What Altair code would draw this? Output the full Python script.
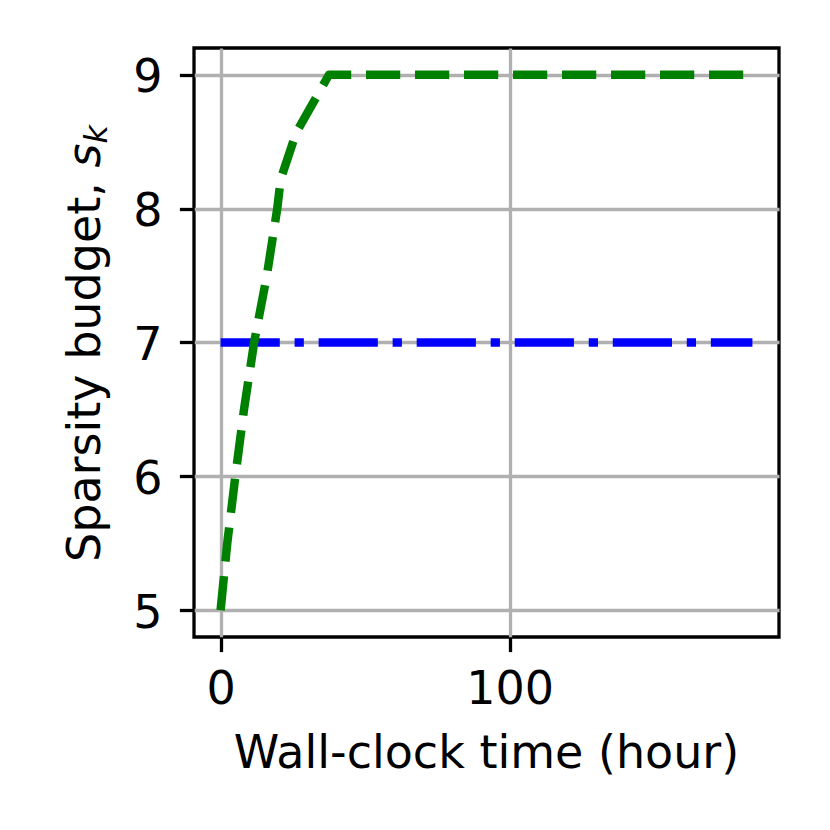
import altair as alt
import pandas as pd

# Data
green_hours = [0, 2.3, 5.1, 8.1, 11.6, 16.0, 19.6, 20.8, 26.2, 37.5, 184]
green_budget = [5, 5.5, 6, 6.5, 7, 7.5, 8, 8.22, 8.57, 9, 9]
blue_hours = [0, 184]
blue_budget = [7, 7]

x_ticks = [0, 100]
y_ticks = [5, 6, 7, 8, 9]

FONT = "DejaVu Sans"
FS = 46

green_df = pd.DataFrame({"t": green_hours, "s": green_budget})
blue_df = pd.DataFrame({"t": blue_hours, "s": blue_budget})

xscale = alt.Scale(domain=[-9.2, 193.2], nice=False, zero=False)
yscale = alt.Scale(domain=[4.8, 9.2], nice=False, zero=False)

xaxis = alt.Axis(values=x_ticks, title=None, grid=True, gridColor="#b0b0b0",
                 gridWidth=3.3, domain=False, ticks=True, tickSize=14.6,
                 tickWidth=3.3, tickColor="black", labelFont=FONT,
                 labelFontSize=FS, labelColor="black", labelPadding=15.6,
                 format="d", labelFlush=False)
yaxis = alt.Axis(values=y_ticks, title=None, grid=True, gridColor="#b0b0b0",
                 gridWidth=3.3, domain=False, ticks=True, tickSize=14.6,
                 tickWidth=3.3, tickColor="black", labelFont=FONT,
                 labelFontSize=FS, labelColor="black", labelPadding=17.4,
                 labelOffset=3, format="d", labelFlush=False)

blue = alt.Chart(blue_df).mark_line(
    color="#0000ff", strokeWidth=8.5, strokeDash=[59.2, 14.8, 9.25, 14.8],
    strokeCap="butt", strokeJoin="round"
).encode(
    x=alt.X("t:Q", scale=xscale, axis=xaxis),
    y=alt.Y("s:Q", scale=yscale, axis=yaxis),
)

green = alt.Chart(green_df).mark_line(
    color="#008000", strokeWidth=8.5, strokeDash=[34.2, 14.8],
    strokeCap="butt", strokeJoin="round"
).encode(
    x=alt.X("t:Q", scale=xscale),
    y=alt.Y("s:Q", scale=yscale),
)

ytitle_main = alt.Chart(pd.DataFrame({"txt": ["Sparsity budget,"]})).mark_text(
    angle=270, align="left", baseline="alphabetic", font=FONT, fontSize=FS,
    color="black"
).encode(x=alt.value(-94), y=alt.value(514), text="txt:N")

ytitle_s = alt.Chart(pd.DataFrame({"txt": ["s"]})).mark_text(
    angle=270, align="left", baseline="alphabetic", font=FONT, fontSize=FS,
    fontStyle="italic", color="black"
).encode(x=alt.value(-94), y=alt.value(119.5), text="txt:N")

ytitle_k = alt.Chart(pd.DataFrame({"txt": ["k"]})).mark_text(
    angle=270, align="left", baseline="alphabetic", font=FONT, fontSize=32,
    fontStyle="italic", color="black"
).encode(x=alt.value(-87), y=alt.value(95.5), text="txt:N")

xtitle = alt.Chart(pd.DataFrame({"txt": ["Wall-clock time (hour)"]})).mark_text(
    align="center", baseline="alphabetic", font=FONT, fontSize=FS,
    color="black"
).encode(x=alt.value(292.5), y=alt.value(720), text="txt:N")

chart = alt.layer(blue, green, ytitle_main, ytitle_s, ytitle_k, xtitle).properties(
    width=585, height=589,
    background="white",
    autosize=alt.AutoSizeParams(type="none"),
    padding={"left": 186, "top": 40, "right": 30, "bottom": 170},
).configure_view(
    stroke="black", strokeWidth=3.3, strokeOpacity=1, fill="white"
)

chart.save("out.html", embed_options={"renderer": "svg", "actions": False})
